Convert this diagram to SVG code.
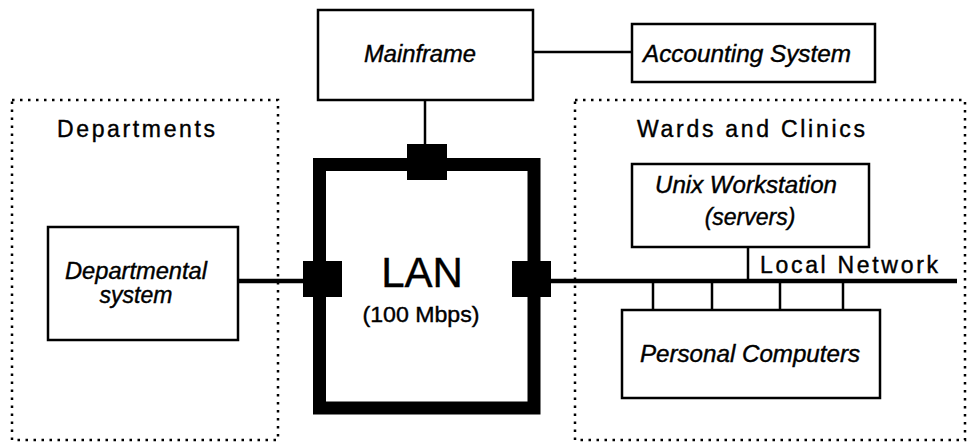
<svg xmlns="http://www.w3.org/2000/svg" width="967" height="445" viewBox="0 0 967 445">
<style>
  .box{fill:#fff;stroke:#000;stroke-width:2.5}
  .dot{fill:none;stroke:#000;stroke-width:2.5;stroke-dasharray:2.5 5.5}
  text{stroke:#000;stroke-width:0.4}
  .lbl{font-family:"Liberation Sans",Arial,sans-serif;font-style:italic;font-size:23px;fill:#000;text-anchor:middle}
  .hdr{font-family:"Liberation Sans",Arial,sans-serif;font-size:23px;fill:#000}
  .ln{stroke:#000;fill:none}
  .blk{fill:#000}
</style>
<rect width="967" height="445" fill="#fff"/>
<g id="departments">
  <rect class="dot" x="12" y="100" width="266" height="340"/>
  <text class="hdr" x="57" y="137" textLength="158" lengthAdjust="spacing">Departments</text>
</g>
<g id="wards">
  <rect class="dot" x="575" y="100" width="390" height="340"/>
  <text class="hdr" x="637" y="137" textLength="228" lengthAdjust="spacing">Wards and Clinics</text>
</g>
<g id="connectors">
  <line class="ln" x1="425" y1="100" x2="425" y2="150" stroke-width="2.5"/>
  <line class="ln" x1="533" y1="52" x2="632" y2="52" stroke-width="2.5"/>
  <line class="ln" x1="238" y1="281" x2="310" y2="281" stroke-width="4.5"/>
  <line class="ln" x1="545" y1="281" x2="957" y2="281" stroke-width="4.5"/>
  <line class="ln" x1="748" y1="247" x2="748" y2="281" stroke-width="2.5"/>
  <line class="ln" x1="653" y1="281" x2="653" y2="310" stroke-width="2.5"/>
  <line class="ln" x1="712" y1="281" x2="712" y2="310" stroke-width="2.5"/>
  <line class="ln" x1="780" y1="281" x2="780" y2="310" stroke-width="2.5"/>
  <line class="ln" x1="843" y1="281" x2="843" y2="310" stroke-width="2.5"/>
  <text class="hdr" x="760" y="273" textLength="178" lengthAdjust="spacing">Local Network</text>
</g>
<g id="mainframe">
  <rect class="box" x="318" y="10" width="215" height="90"/>
  <text class="lbl" x="420" y="62" textLength="112" lengthAdjust="spacingAndGlyphs">Mainframe</text>
</g>
<g id="accounting">
  <rect class="box" x="632" y="24" width="243" height="58"/>
  <text class="lbl" x="747" y="62" textLength="208" lengthAdjust="spacingAndGlyphs">Accounting System</text>
</g>
<g id="lan">
  <rect x="319.5" y="164.5" width="214.5" height="243.5" fill="none" stroke="#000" stroke-width="13"/>
  <rect class="blk" x="407" y="144" width="40" height="36"/>
  <rect class="blk" x="303" y="261" width="39" height="36"/>
  <rect class="blk" x="512" y="261" width="39" height="36"/>
  <text x="422" y="287" font-family="Liberation Sans,Arial,sans-serif" font-size="42" text-anchor="middle">LAN</text>
  <text x="421" y="322" font-family="Liberation Sans,Arial,sans-serif" font-size="22" text-anchor="middle" textLength="117" lengthAdjust="spacingAndGlyphs">(100 Mbps)</text>
</g>
<g id="departmental">
  <rect class="box" x="48" y="227" width="190" height="113"/>
  <text class="lbl" x="136" y="279" textLength="142" lengthAdjust="spacingAndGlyphs">Departmental</text>
  <text class="lbl" x="136" y="303">system</text>
</g>
<g id="unix">
  <rect class="box" x="632" y="164" width="237" height="83"/>
  <text class="lbl" x="746" y="193" textLength="182" lengthAdjust="spacingAndGlyphs">Unix Workstation</text>
  <text class="lbl" x="750" y="225">(servers)</text>
</g>
<g id="pcs">
  <rect class="box" x="622" y="310" width="258" height="88"/>
  <text class="lbl" x="750" y="362" textLength="220" lengthAdjust="spacingAndGlyphs">Personal Computers</text>
</g>
</svg>
